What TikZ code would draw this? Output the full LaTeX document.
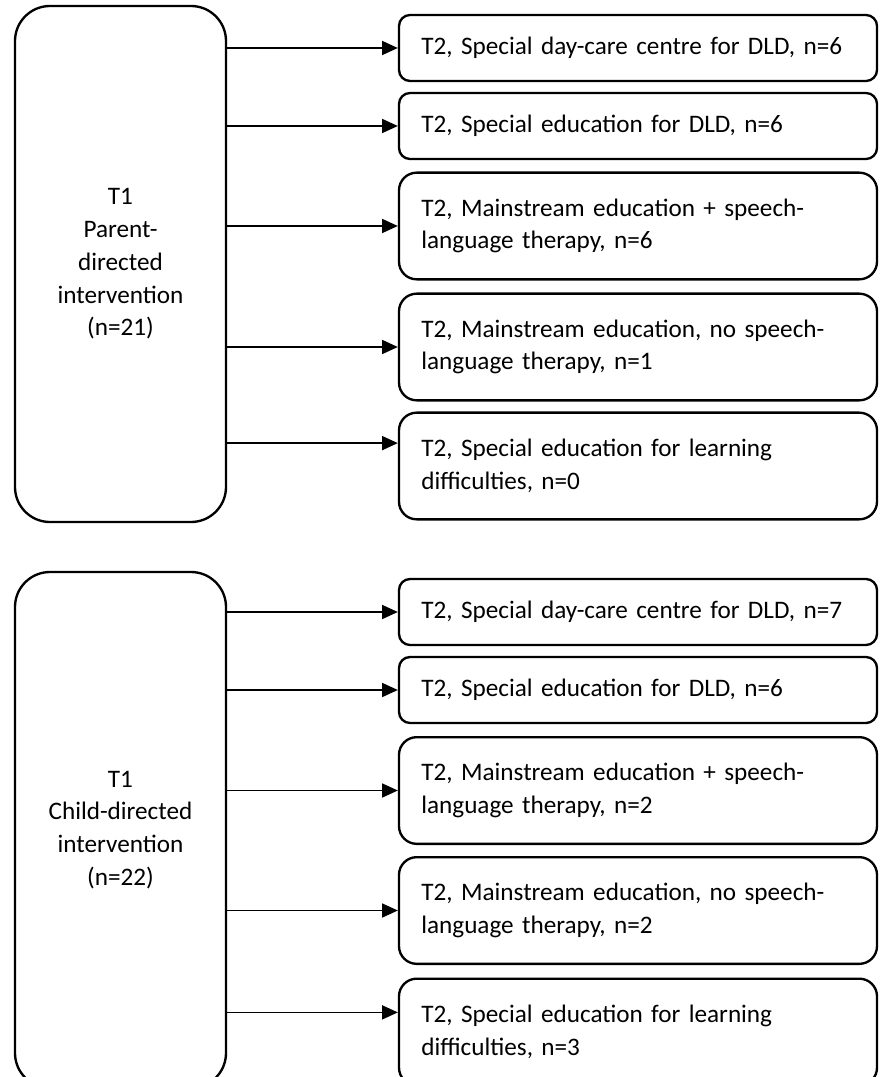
\documentclass[tikz,border=0pt]{standalone}
\usepackage{fontspec}
\setmainfont{Carlito}[WordSpace=0.85]
\usetikzlibrary{arrows.meta,calc}

\begin{document}
\begin{tikzpicture}[scale=1,
    startbox/.style={draw, line width=2pt, rounded corners=1.05cm,
      minimum width=6.33cm, minimum height=15.48cm, align=center,
      font=\fontsize{21.5}{28}\selectfont},
    outbox/.style={draw, line width=2pt, text width=13cm, inner xsep=0.67cm,
      align=left, font=\fontsize{21.5}{28}\selectfont},
    onerow/.style={outbox, rounded corners=0.33cm, minimum height=1.98cm},
    tworow/.style={outbox, rounded corners=0.53cm, minimum height=3.2cm},
    link/.style={-{Triangle[length=0.47cm, width=0.42cm]}, line width=1.2pt}
  ]
  % \draw[help lines, gray!50, very thin] (0,0) grid (26,-32);
  \useasboundingbox (0,0) rectangle (26.46,-32.31);

  % parent-directed group
  \node[startbox] (p1) at (3.615,-7.92) {T1\\Parent-\\directed\\intervention\\(n=21)};

  \node[onerow] (pa) at (19.14,-1.44) {T2, Special day-care centre for DLD, n=6};
  \node[onerow] (pb) at (19.14,-3.78) {T2, Special education for DLD, n=6};
  \node[tworow] (pc) at (19.14,-6.78) {T2, Mainstream education + speech-\\language therapy, n=6};
  \node[tworow] (pd) at (19.14,-10.41) {T2, Mainstream education, no speech-\\language therapy, n=1};
  \node[tworow] (pe) at (19.14,-13.98) {T2, Special education for learning\\difficulties, n=0};

  \foreach \b in {pa,pb,pc,pd}
    \draw[link] (p1.east |- \b.west) -- (\b.west);
  \coordinate (pe-in) at ($(pe.north west)!0.29!(pe.south west)$);
  \draw[link] (p1.east |- pe-in) -- (pe-in);

  % child-directed group
  \node[startbox] (c1) at (3.615,-24.9) {T1\\Child-directed\\intervention\\(n=22)};

  \node[onerow] (ca) at (19.14,-18.36) {T2, Special day-care centre for DLD, n=7};
  \node[onerow] (cb) at (19.14,-20.7) {T2, Special education for DLD, n=6};
  \node[tworow] (cc) at (19.14,-23.715) {T2, Mainstream education + speech-\\language therapy, n=2};
  \node[tworow] (cd) at (19.14,-27.315) {T2, Mainstream education, no speech-\\language therapy, n=2};
  \node[tworow] (ce) at (19.14,-30.96) {T2, Special education for learning\\difficulties, n=3};

  \foreach \b in {ca,cb,cc,cd}
    \draw[link] (c1.east |- \b.west) -- (\b.west);
  \coordinate (ce-in) at ($(ce.north west)!0.32!(ce.south west)$);
  \draw[link] (c1.east |- ce-in) -- (ce-in);
\end{tikzpicture}
\end{document}
